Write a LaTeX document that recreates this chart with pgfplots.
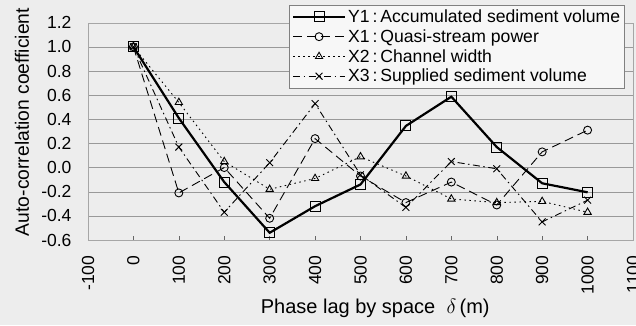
\documentclass[border=0pt]{standalone}
\usepackage{pgfplots}
\pgfplotsset{compat=1.18}
\usepackage{fontspec}
\setmainfont{Liberation Sans}
\begin{document}
\begin{tikzpicture}
\fill[black!7] (-88pt,-85pt) rectangle (548pt,240pt);
\begin{axis}[
  at={(0pt,0pt)}, anchor=south west,
  scale only axis, width=545pt, height=217.3pt,
  xmin=-100, xmax=1100, ymin=-0.6, ymax=1.2,
  xtick={-100,0,...,1100}, ytick={-0.6,-0.4,...,1.21},
  /pgf/number format/assume math mode=true,
  tick label style={font=\fontsize{17.5}{20}\selectfont},
  yticklabel style={anchor=east, xshift=-13pt, /pgf/number format/.cd,fixed,fixed zerofill,precision=1},
  xticklabel style={rotate=90, anchor=east, xshift=-12pt, /pgf/number format/.cd,1000 sep={}},
  xtick pos=bottom, ytick style={draw=none},
  xtick style={black!60, thin}, major tick length=4pt,
  ymajorgrids, grid style={black!40, thin},
  axis line style={black!35, thin},
  xlabel={Phase lag by space\ \ $\delta$\,(m)},
  ylabel={Auto-correlation coefficient},
  every axis x label/.style={at={(axis description cs:0.527,-0.313)}, anchor=center, font=\fontsize{20}{22}\selectfont},
  every axis y label/.style={at={(axis description cs:-0.121,0.543)}, rotate=90, anchor=center, font=\fontsize{19.3}{21}\selectfont},
  legend style={at={(0.985,1.081)}, anchor=north east, draw=black!50, fill=black!3,
    font=\fontsize{17.6}{19}\selectfont, row sep=1.5pt, inner sep=2.5pt},
  legend cell align=left,
  legend image code/.code={\draw[mark repeat=2,mark phase=2,#1] plot coordinates {(0pt,0pt) (26pt,0pt) (52pt,0pt)};},
]
\addplot[black, line width=2.2pt, mark=square, mark size=5pt, mark options={solid, fill=white, line width=1pt}]
coordinates {(0,1.0) (100,0.41) (200,-0.12) (300,-0.54) (400,-0.32) (500,-0.14) (600,0.345) (700,0.587) (800,0.17) (900,-0.13) (1000,-0.205)};
\addlegendentry{Y1\,:\,Accumulated sediment volume}
\addplot[black, line width=0.9pt, dash pattern=on 9pt off 5pt, mark=o, mark size=4pt, mark options={solid, fill=none}]
coordinates {(0,1.0) (100,-0.21) (200,0.0) (300,-0.42) (400,0.24) (500,-0.07) (600,-0.29) (700,-0.12) (800,-0.31) (900,0.13) (1000,0.31)};
\addlegendentry{X1\,:\,Quasi-stream power}
\addplot[black, line width=0.9pt, dash pattern=on 1.5pt off 3.5pt, mark=triangle, mark size=4.2pt, mark options={solid, fill=none}]
coordinates {(0,1.0) (100,0.54) (200,0.05) (300,-0.18) (400,-0.09) (500,0.09) (600,-0.07) (700,-0.26) (800,-0.29) (900,-0.28) (1000,-0.37)};
\addlegendentry{X2\,:\,Channel width}
\addplot[black, line width=0.9pt, dash pattern=on 7pt off 3.5pt on 1.5pt off 3.5pt, mark=x, mark size=4.8pt, mark options={solid}]
coordinates {(0,1.0) (100,0.17) (200,-0.37) (300,0.04) (400,0.53) (500,-0.06) (600,-0.33) (700,0.05) (800,-0.01) (900,-0.45) (1000,-0.27)};
\addlegendentry{X3\,:\,Supplied sediment volume}
\end{axis}
\pgfresetboundingbox
\path[use as bounding box] (-88pt,-85pt) rectangle (548pt,240pt);
\end{tikzpicture}
\end{document}
